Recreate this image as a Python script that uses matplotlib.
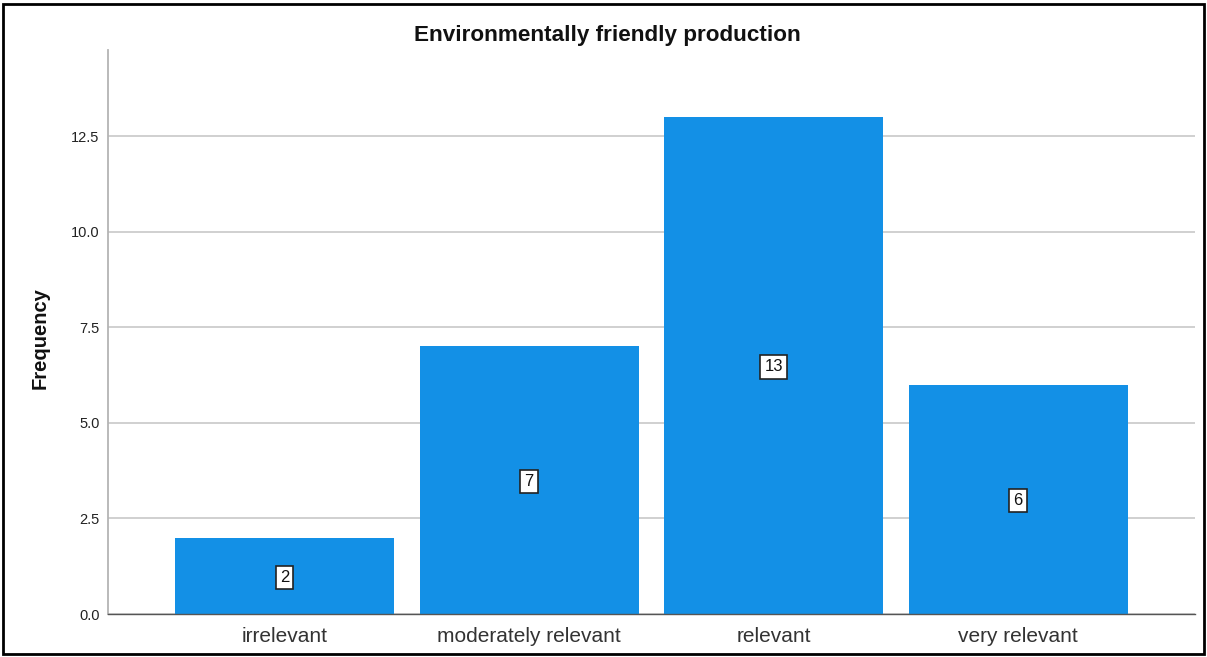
import matplotlib.pyplot as plt
from matplotlib.patches import Rectangle

categories = ['irrelevant', 'moderately relevant', 'relevant', 'very relevant']
counts = [2, 7, 13, 6]
yticks = [0.0, 2.5, 5.0, 7.5, 10.0, 12.5]

plt.rcParams['font.family'] = ['Liberation Sans', 'DejaVu Sans']

fig = plt.figure(figsize=(12.07, 6.57), dpi=100)
ax = fig.add_axes([0.0895, 0.0654, 0.9006, 0.8585])

x = range(len(categories))
bars = ax.bar(x, counts, width=0.896, color='#1390e6', zorder=2)

# value labels in white boxes, halfway up each bar
for xi, c in zip(x, counts):
    ax.text(xi, c / 2, str(c), ha='center', va='center_baseline', fontsize=12, color='#111111', zorder=3,
            bbox=dict(boxstyle='square,pad=0.25', fc='white', ec='#222222', lw=1.2))

ax.set_xlim(-0.722, 3.724)
ax.set_ylim(0, 14.75)
ax.set_yticks(yticks)
ax.set_yticklabels([f'{t:.1f}' for t in yticks], fontsize=10.5, color='#222222')
ax.set_xticks(list(x))
ax.set_xticklabels(categories, fontsize=15, color='#333333')
ax.tick_params(axis='y', length=0, pad=6)
ax.tick_params(axis='x', length=0, pad=9)

ax.yaxis.grid(True, color='#d0d0d0', lw=1.4, zorder=0)
ax.set_axisbelow(True)

for side in ['top', 'right']:
    ax.spines[side].set_visible(False)
ax.spines['left'].set_color('#b4b4b4')
ax.spines['left'].set_linewidth(1.3)
ax.spines['bottom'].set_color('#555555')
ax.spines['bottom'].set_linewidth(1.0)

fig.text(0.503, 1 - 35 / 657, 'Environmentally friendly production', ha='center', va='center',
         fontsize=16.2, fontweight='bold', color='#111111')
fig.text(40 / 1207, 1 - 338 / 657, 'Frequency', ha='center', va='center', rotation=90,
         fontsize=14.5, fontweight='bold', color='#111111')

# outer frame
fig.patches.append(Rectangle((3 / 1207, 3 / 657), 1201 / 1207, 650 / 657, transform=fig.transFigure,
                             fill=False, ec='black', lw=2.0))

fig.savefig('out.png', dpi=100)
